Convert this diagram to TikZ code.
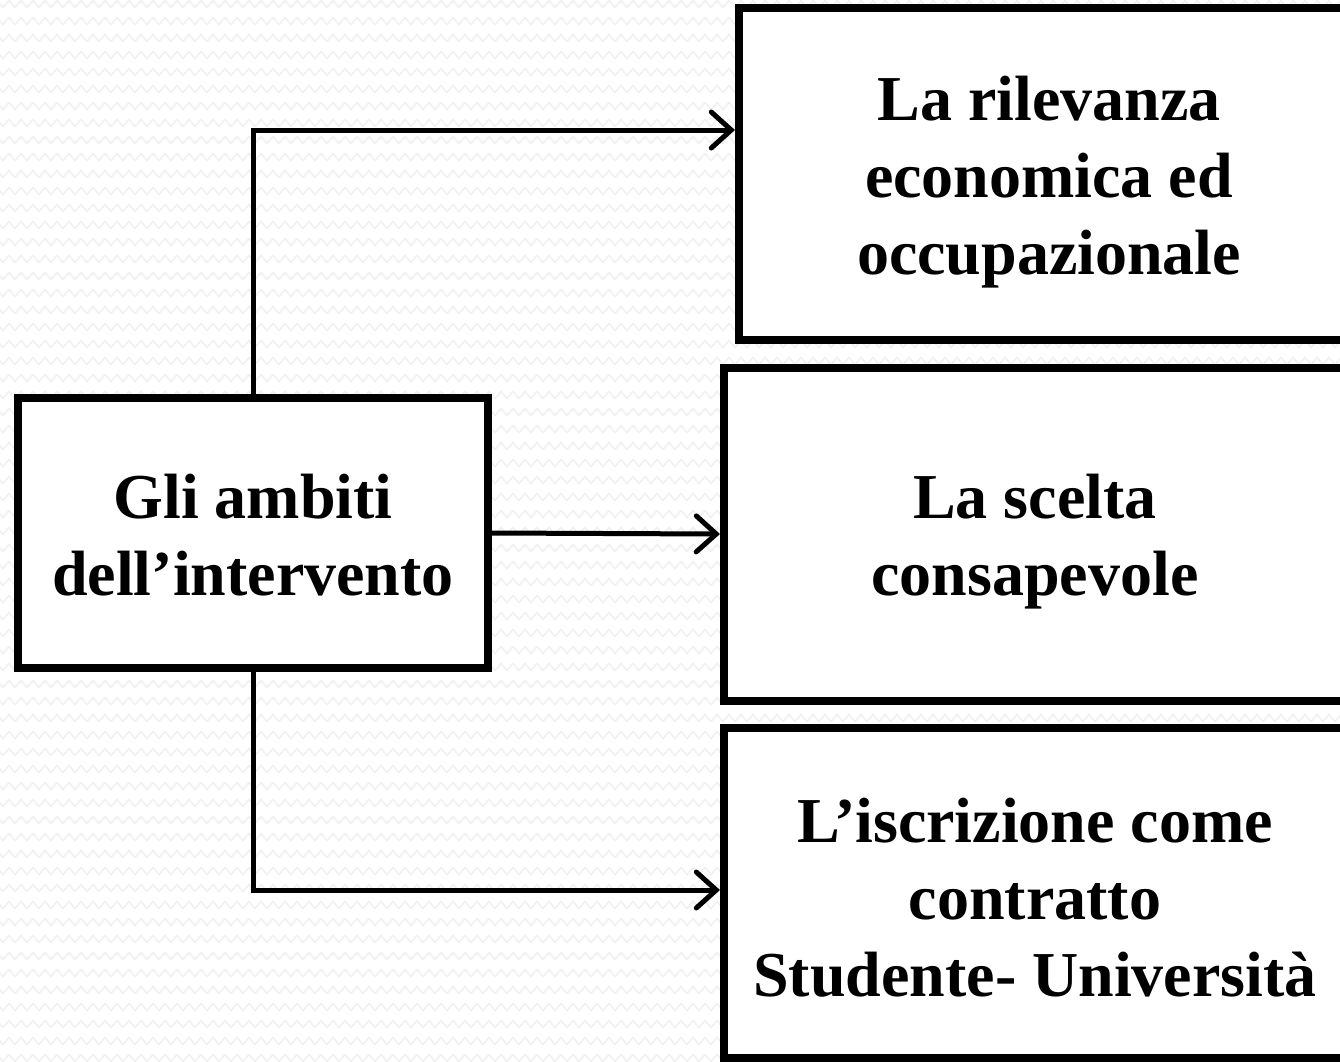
\documentclass[tikz,border=0pt]{standalone}
\usepackage{fontspec}
\setmainfont{Liberation Serif}
\usetikzlibrary{arrows.meta,calc,decorations.pathmorphing}
\tikzset{
  boxstyle/.style={draw=black, line width=8pt, fill=white, rectangle, inner sep=0pt},
  boxtext/.style={font=\fontsize{64}{77}\selectfont\bfseries, align=center, inner sep=0pt},
  conn/.style={draw=black, line width=5pt, line cap=round, line join=miter,
    -{Straight Barb[length=20pt,width=36pt,line cap=round]}},
  bgzig/.style={draw=black!6, line width=1.5pt,
    decorate, decoration={zigzag, segment length=12pt, amplitude=3.5pt}}
}
\begin{document}
\begin{tikzpicture}[x=1pt,y=-1pt]
\useasboundingbox (0,0) rectangle (1340,1061);
\clip (0,0) rectangle (1340,1061);
\fill[white] (0,0) rectangle (1340,1061);
\foreach \r in {0,...,63} {
  \draw[bgzig] (-6,{\r*17+4}) -- (1350,{\r*17+4});
}
\node[boxstyle, minimum width=470pt, minimum height=270pt,
  label={[boxtext, yshift=-2pt]center:{Gli ambiti\\dell’intervento}}] (src) at (253,533) {};
\node[boxstyle, minimum width=620pt, minimum height=332pt,
  label={[boxtext, yshift=-8pt]center:{La rilevanza\\economica ed\\occupazionale}}] (b1) at (1049,174) {};
\node[boxstyle, minimum width=622pt, minimum height=333pt,
  label={[boxtext, yshift=-8pt]center:{La scelta\\consapevole}}] (b2) at (1035,534) {};
\node[boxstyle, minimum width=622pt, minimum height=330pt,
  label={[boxtext, yshift=-5pt]center:{L’iscrizione come\\contratto\\Studente- Università}}] (b3) at (1035,893) {};
\draw[conn] (src.north) |- ($(b1.west)+(0,-44)$);
\draw[conn] (src.east) -- (b2.west);
\draw[conn] (src.south) |- ($(b3.west)+(0,-3)$);
\end{tikzpicture}
\end{document}
